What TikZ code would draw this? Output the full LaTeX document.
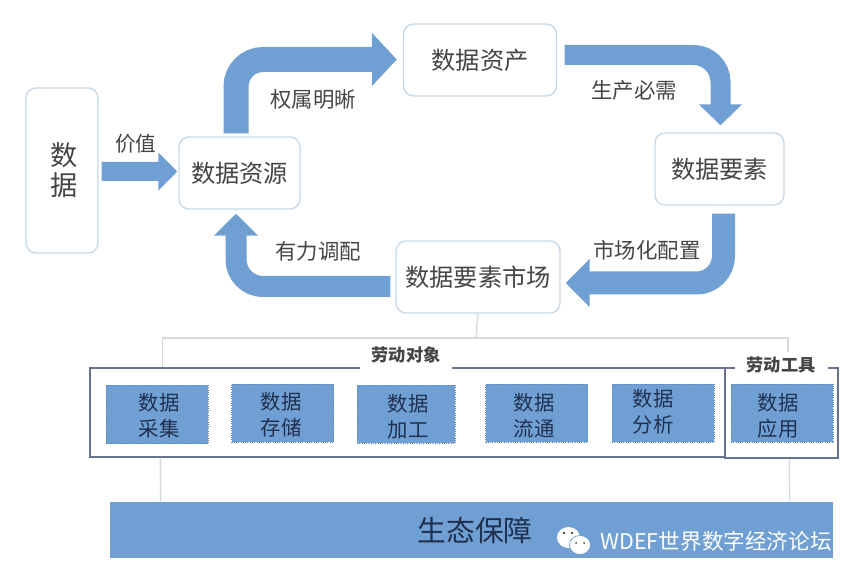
\documentclass[tikz,border=0pt]{standalone}
\usepackage{fontspec}
\usepackage{xcolor}
\setmainfont{Noto Sans CJK SC}
\usetikzlibrary{arrows.meta,calc}
\definecolor{barblue}{HTML}{6F9FD3}
\definecolor{edgeblue}{HTML}{C9D8E6}
\definecolor{framegrey}{HTML}{66728F}
\definecolor{branchgrey}{HTML}{D6D9DE}
\definecolor{inkgrey}{HTML}{454545}
\definecolor{inknavy}{HTML}{20304F}
\tikzset{
    boxsize/.style 2 args={minimum width=#1*0.02cm, minimum height=#2*0.02cm, inner sep=0pt},
    softbox/.style={draw=edgeblue, line width=0.8pt, fill=white, rounded corners=0.2cm, text=inkgrey, font=\fontsize{13.8}{16}\selectfont},
    stagebox/.style={boxsize={102}{58}, draw=barblue!85!black, densely dotted, line width=0.3pt, fill=barblue},
    stagetxt/.style={text=inknavy, inner sep=0pt, align=center, font=\fontsize{11.6}{14.7}\selectfont},
    framebox/.style={draw=framegrey, line width=0.8pt},
    steplabel/.style={text=inkgrey, inner sep=0pt, font=\fontsize{12.2}{14}\selectfont},
    grouplabel/.style={fill=white, text=inkgrey, inner sep=0pt, font=\fontsize{9.8}{12}\selectfont\bfseries},
    branchline/.style={draw=branchgrey, line width=0.8pt},
    flowarrow/.style n args={3}{draw=barblue, line width=#1*0.02cm, rounded corners=0.54cm, -{Triangle[length=#2*0.02cm,width=#3*0.02cm]}}
}
\begin{document}
\begin{tikzpicture}[x=0.02cm, y=-0.02cm]
    \useasboundingbox (0,0) rectangle (860,581);

    \node[softbox, boxsize={72}{165}, align=center, font=\fontsize{15.5}{17}\selectfont] (data) at (62,170.5) {\hspace{2pt}数\\\hspace{2pt}据};
    \node[softbox, boxsize={121}{72}] (res) at (239.5,173) {数据资源};
    \node[softbox, boxsize={153}{72}] (asset) at (480,60) {数据资产};
    \node[softbox, boxsize={129}{72}] (factor) at (719.5,169) {数据要素};
    \node[softbox, boxsize={164}{72}] (market) at (478,277) {数据要素市场};

    \draw[flowarrow={19}{19}{37}] ($(data.east)+(3,1)$) -- ($(res.west)+(-1,-1.5)$); %value
    \draw[flowarrow={25}{25}{52}] ($(res.north)+(-3.5,-3)$) |- ($(asset.west)+(-6,-0.5)$);
    \draw[flowarrow={20}{21}{42}] ($(asset.east)+(7.5,-5)$) -| ($(factor.north)+(1,-7)$);
    \draw[flowarrow={23}{24}{47}] ($(factor.south)+(4,8)$) |- ($(market.east)+(5,6)$);
    \draw[flowarrow={21}{22}{43}] ($(market.west)+(-5,9.5)$) -| ($(res.south)+(-3.5,4)$);

    \node[steplabel, font=\fontsize{11.7}{14}\selectfont] (valuetxt) at (136,144) {价值};
    \node[steplabel] (owntxt) at (313,99) {权属明晰};
    \node[steplabel] (prodtxt) at (634,90) {生产必需};
    \node[steplabel] (marktxt) at (647,250) {市场化配置};
    \node[steplabel] (adjtxt) at (318,251) {有力调配};

    \node[framebox, boxsize={635}{89}] (objframe) at (407.5,412.5) {};
    \node[framebox, boxsize={113}{90}] (toolframe) at (781.5,413) {};
    \node[grouplabel, boxsize={92}{28}] (objlabel) at (406,355) {劳动对象};
    \node[grouplabel, boxsize={93}{26}] (toollabel) at (781,365) {劳动工具};

    \coordinate (split) at (476,338);
    \draw[branchline] (market.south) -- (split);
    \draw[branchline] ($(objframe.north west)+(73,0)$) |- (split);
    \draw[branchline] (split) -| ($(toollabel.north)+(7,0)$);

    \node[stagebox] (collect) at (157,414.5) {};
    \node[stagebox] (store) at (282.5,413) {};
    \node[stagebox, minimum width=98*0.02cm] (process) at (406,414) {};
    \node[stagebox] (flow) at (536.5,413) {};
    \node[stagebox] (analyse) at (663,413) {};
    \node[stagebox] (apply) at (782,413) {};

    \node[stagetxt] (collecttxt) at (159,416) {数据\\采集};
    \node[stagetxt] (storetxt) at (281,415) {数据\\存储};
    \node[stagetxt] (processtxt) at (408,416.5) {数据\\加工};
    \node[stagetxt] (flowtxt) at (534,416) {数据\\流通};
    \node[stagetxt] (analysetxt) at (653,411.5) {数据\\分析};
    \node[stagetxt] (applytxt) at (778,416) {数据\\应用};

    \node[boxsize={723}{56}, fill=barblue, text=inknavy, font=\fontsize{16.4}{20}\selectfont] (base) at (471.5,530) {\hspace{4pt}生态保障};

    \draw[branchline] ($(objframe.south west)+(71,0)$) -- ($(base.north west)+(51,0)$);
    \draw[branchline] ($(toolframe.south west)+(65,0)$) -- ($(base.north west)+(680,0)$);

    \fill[white] (568.5,537.5) ellipse (11.5 and 10.5);
    \filldraw[fill=white, draw=barblue, line width=0.4pt] (580,545) ellipse (10.5 and 9.5);
    \fill[inkgrey] (564,533) circle (1.3) (572,533) circle (1.3) (576,543) circle (1) (584,543) circle (1);
    \node[text=white, inner sep=0pt, font=\fontsize{12.3}{14}\selectfont] (mark) at (716,541) {WDEF世界数字经济论坛};
\end{tikzpicture}
\end{document}
